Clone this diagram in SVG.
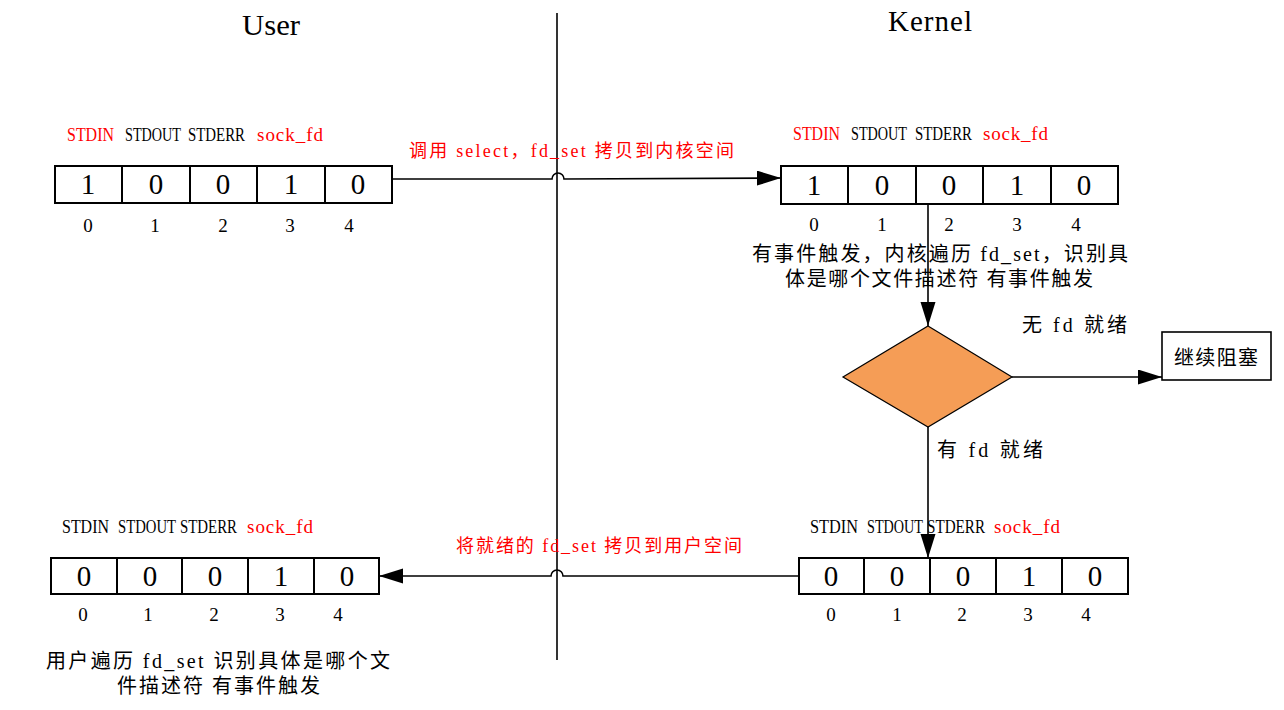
<svg xmlns="http://www.w3.org/2000/svg" width="1284" height="710" viewBox="0 0 1284 710">
<style>
text{font-family:"Liberation Serif","Noto Sans CJK SC",serif;fill:#000}
.t{font-size:29px}
.lab{font-size:19px}
.red{fill:#FF0000}
.dig{font-size:29px;text-anchor:middle}
.idx{font-size:19px;text-anchor:middle}
.cn{font-size:20px}
.rl{font-size:18px;fill:#FF0000}
.box{fill:#fff;stroke:#000;stroke-width:2}
.cell{stroke:#000;stroke-width:2}
.ln{fill:none;stroke:#000;stroke-width:1.6}
</style>
<defs>
<marker id="ah" markerUnits="userSpaceOnUse" markerWidth="24" markerHeight="16" refX="24" refY="7.5" orient="auto">
<path d="M0,0 L24,7.5 L0,15 z" fill="#000"/>
</marker>
</defs>
<rect width="1284" height="710" fill="#fff"/>

<g id="titles">
<text class="t" x="242" y="35" textLength="58" lengthAdjust="spacingAndGlyphs">User</text>
<text class="t" x="888" y="31" textLength="84">Kernel</text>
</g>

<g id="connectors">
<line class="ln" x1="557" y1="13" x2="557" y2="660"/>
<path class="ln" d="M392,179 L552,179 A6,6 0 0 1 564,179 L781,178" marker-end="url(#ah)"/>
<path class="ln" d="M799,576 L563,576 A6,6 0 0 0 551,576 L379,576" marker-end="url(#ah)"/>
<line class="ln" x1="928" y1="204" x2="928" y2="326" marker-end="url(#ah)"/>
<line class="ln" x1="1012" y1="377" x2="1162" y2="377" marker-end="url(#ah)"/>
<line class="ln" x1="928" y1="427" x2="928" y2="558" marker-end="url(#ah)"/>
<text class="rl" x="409" y="157" textLength="325">调用 select，fd_set 拷贝到内核空间</text>
<text class="rl" x="456" y="552" textLength="286">将就绪的 fd_set 拷贝到用户空间</text>
<text class="cn" x="1022" y="332" textLength="105">无 fd 就绪</text>
<text class="cn" x="937" y="457" textLength="106">有 fd 就绪</text>
</g>

<g id="user-fdset-top">
<text class="lab red" x="67" y="141" textLength="47" lengthAdjust="spacingAndGlyphs">STDIN</text>
<text class="lab" x="125" y="141" textLength="56" lengthAdjust="spacingAndGlyphs">STDOUT</text>
<text class="lab" x="188" y="141" textLength="57" lengthAdjust="spacingAndGlyphs">STDERR</text>
<text class="lab red" x="257" y="141" textLength="66">sock_fd</text>
<rect class="box" x="55" y="166" width="337" height="37"/>
<line class="cell" x1="122" y1="166" x2="122" y2="203"/>
<line class="cell" x1="190" y1="166" x2="190" y2="203"/>
<line class="cell" x1="257" y1="166" x2="257" y2="203"/>
<line class="cell" x1="325" y1="166" x2="325" y2="203"/>
<text class="dig" x="88" y="194">1</text>
<text class="dig" x="156" y="194">0</text>
<text class="dig" x="223" y="194">0</text>
<text class="dig" x="291" y="194">1</text>
<text class="dig" x="358" y="194">0</text>
<text class="idx" x="88" y="232">0</text>
<text class="idx" x="155" y="232">1</text>
<text class="idx" x="223" y="232">2</text>
<text class="idx" x="290" y="232">3</text>
<text class="idx" x="349" y="232">4</text>
</g>

<g id="kernel-fdset-top">
<text class="lab red" x="793" y="140" textLength="47" lengthAdjust="spacingAndGlyphs">STDIN</text>
<text class="lab" x="851" y="140" textLength="56" lengthAdjust="spacingAndGlyphs">STDOUT</text>
<text class="lab" x="915" y="140" textLength="57" lengthAdjust="spacingAndGlyphs">STDERR</text>
<text class="lab red" x="983" y="140" textLength="65">sock_fd</text>
<rect class="box" x="781" y="166" width="337" height="38"/>
<line class="cell" x1="848" y1="166" x2="848" y2="204"/>
<line class="cell" x1="916" y1="166" x2="916" y2="204"/>
<line class="cell" x1="983" y1="166" x2="983" y2="204"/>
<line class="cell" x1="1051" y1="166" x2="1051" y2="204"/>
<text class="dig" x="814" y="195">1</text>
<text class="dig" x="882" y="195">0</text>
<text class="dig" x="949" y="195">0</text>
<text class="dig" x="1017" y="195">1</text>
<text class="dig" x="1084" y="195">0</text>
<text class="idx" x="814" y="231">0</text>
<text class="idx" x="882" y="231">1</text>
<text class="idx" x="949" y="231">2</text>
<text class="idx" x="1017" y="231">3</text>
<text class="idx" x="1076" y="231">4</text>
</g>

<g id="kernel-scan-text">
<text class="cn" x="752" y="261" textLength="376">有事件触发，内核遍历 fd_set，识别具</text>
<text class="cn" x="785" y="286" textLength="308">体是哪个文件描述符 有事件触发</text>
</g>

<g id="decision">
<polygon points="928,326 1012,377 928,427 843,377" fill="#F59D56" stroke="#000" stroke-width="1.2"/>
</g>

<g id="keep-blocking">
<rect x="1162" y="332" width="109" height="48" fill="#fff" stroke="#000" stroke-width="1.6"/>
<text class="cn" x="1174" y="365" textLength="84" font-size="21">继续阻塞</text>
</g>

<g id="kernel-fdset-bottom">
<text class="lab" x="810" y="533" textLength="48" lengthAdjust="spacingAndGlyphs">STDIN</text>
<text class="lab" x="867" y="533" textLength="56" lengthAdjust="spacingAndGlyphs">STDOUT</text>
<text class="lab" x="927" y="533" textLength="58" lengthAdjust="spacingAndGlyphs">STDERR</text>
<text class="lab red" x="994" y="533" textLength="66">sock_fd</text>
<rect class="box" x="799" y="558" width="329" height="36"/>
<line class="cell" x1="864" y1="558" x2="864" y2="594"/>
<line class="cell" x1="930" y1="558" x2="930" y2="594"/>
<line class="cell" x1="996" y1="558" x2="996" y2="594"/>
<line class="cell" x1="1062" y1="558" x2="1062" y2="594"/>
<text class="dig" x="831" y="586">0</text>
<text class="dig" x="897" y="586">0</text>
<text class="dig" x="963" y="586">0</text>
<text class="dig" x="1029" y="586">1</text>
<text class="dig" x="1095" y="586">0</text>
<text class="idx" x="831" y="621">0</text>
<text class="idx" x="897" y="621">1</text>
<text class="idx" x="962" y="621">2</text>
<text class="idx" x="1028" y="621">3</text>
<text class="idx" x="1086" y="621">4</text>
</g>

<g id="user-fdset-bottom">
<text class="lab" x="62" y="533" textLength="47" lengthAdjust="spacingAndGlyphs">STDIN</text>
<text class="lab" x="118" y="533" textLength="58" lengthAdjust="spacingAndGlyphs">STDOUT</text>
<text class="lab" x="180" y="533" textLength="57" lengthAdjust="spacingAndGlyphs">STDERR</text>
<text class="lab red" x="247" y="533" textLength="66">sock_fd</text>
<rect class="box" x="51" y="558" width="328" height="36"/>
<line class="cell" x1="117" y1="558" x2="117" y2="594"/>
<line class="cell" x1="182" y1="558" x2="182" y2="594"/>
<line class="cell" x1="248" y1="558" x2="248" y2="594"/>
<line class="cell" x1="314" y1="558" x2="314" y2="594"/>
<text class="dig" x="84" y="586">0</text>
<text class="dig" x="150" y="586">0</text>
<text class="dig" x="215" y="586">0</text>
<text class="dig" x="281" y="586">1</text>
<text class="dig" x="347" y="586">0</text>
<text class="idx" x="83" y="621">0</text>
<text class="idx" x="148" y="621">1</text>
<text class="idx" x="214" y="621">2</text>
<text class="idx" x="280" y="621">3</text>
<text class="idx" x="338" y="621">4</text>
</g>

<g id="user-scan-text">
<text class="cn" x="46" y="668" textLength="344">用户遍历 fd_set 识别具体是哪个文</text>
<text class="cn" x="117" y="693" textLength="203">件描述符 有事件触发</text>
</g>
</svg>
